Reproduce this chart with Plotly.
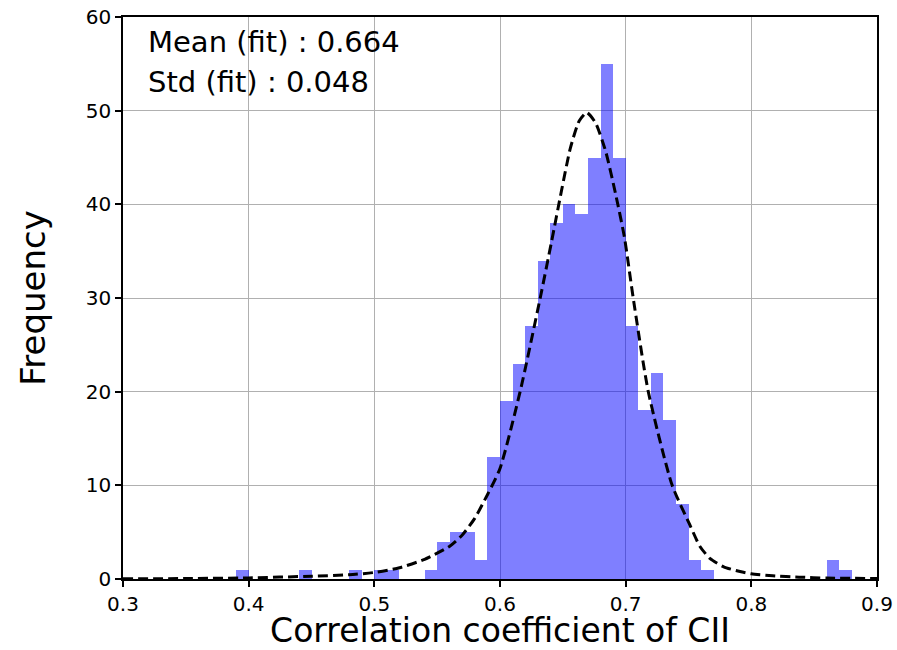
import plotly.graph_objects as go

# --------------------------------------------------------------
# Histogram bins (left edges, width 0.01) and counts
# --------------------------------------------------------------
bin_left = [0.39, 0.44, 0.48, 0.50, 0.51, 0.54, 0.55, 0.56, 0.57, 0.58,
            0.59, 0.60, 0.61, 0.62, 0.63, 0.64, 0.65, 0.66, 0.67, 0.68,
            0.69, 0.70, 0.71, 0.72, 0.73, 0.74, 0.75, 0.76, 0.86, 0.87]
counts = [1, 1, 1, 1, 1, 1, 4, 5, 5, 2,
          13, 19, 23, 27, 34, 38, 40, 39, 45, 55,
          45, 27, 18, 22, 17, 8, 2, 1, 2, 1]
bin_width = 0.01

# --------------------------------------------------------------
# Fitted curve
# --------------------------------------------------------------
fit_x = [0.30, 0.35, 0.40, 0.45, 0.48, 0.50, 0.52, 0.54, 0.56, 0.57,
         0.58, 0.59, 0.60, 0.616, 0.632, 0.641, 0.649, 0.656, 0.663, 0.669,
         0.676, 0.684, 0.692, 0.699, 0.706, 0.718, 0.737, 0.751, 0.759, 0.767,
         0.778, 0.791, 0.80, 0.817, 0.838, 0.86, 0.90]
fit_y = [0.02, 0.05, 0.12, 0.3, 0.45, 0.7, 1.2, 2.1, 3.5, 4.7,
         6.5, 9.0, 11.8, 20, 30, 36, 41.5, 46, 48.9, 49.8,
         48.7, 45.7, 41.1, 36.5, 30, 20, 10, 5.8, 3.5, 2.2,
         1.3, 0.8, 0.55, 0.35, 0.2, 0.1, 0.05]

mean_fit = 0.664
std_fit = 0.048

FONT = "DejaVu Sans"

bin_center = [b + bin_width / 2 for b in bin_left]

fig = go.Figure()

fig.add_trace(go.Bar(
    x=bin_center,
    y=counts,
    width=bin_width,
    marker=dict(color="rgba(0,0,255,0.5)", line=dict(width=0)),
    showlegend=False,
))

fig.add_trace(go.Scatter(
    x=fit_x,
    y=fit_y,
    mode="lines",
    line=dict(color="black", width=3, dash="10px,5px", shape="spline", smoothing=0.6),
    showlegend=False,
))

fig.add_annotation(
    xref="paper", yref="paper", x=0.031, y=0.955,
    xanchor="left", yanchor="middle", showarrow=False,
    text=f"Mean (fit) : {mean_fit:.3f}",
    font=dict(family=FONT, size=29, color="black"),
)
fig.add_annotation(
    xref="paper", yref="paper", x=0.031, y=0.884,
    xanchor="left", yanchor="middle", showarrow=False,
    text=f"Std (fit) : {std_fit:.3f}",
    font=dict(family=FONT, size=29, color="black"),
)

axis_style = dict(
    showline=True, mirror=True, linecolor="black", linewidth=1.5,
    showgrid=True, gridcolor="#b0b0b0", gridwidth=1,
    ticks="outside", ticklen=6, tickwidth=1.5, tickcolor="black",
    tickfont=dict(family=FONT, size=20, color="black"),
    zeroline=False, automargin=False, ticklabeloverflow="allow",
)

fig.update_xaxes(
    range=[0.3, 0.9], dtick=0.1, tick0=0.3, tickformat=".1f",
    title=dict(text="Correlation coefficient of CII",
               font=dict(family=FONT, size=33, color="black"), standoff=8),
    **axis_style,
)
fig.update_yaxes(
    range=[0, 60], dtick=10,
    title=dict(text="Frequency",
               font=dict(family=FONT, size=34, color="black"), standoff=30),
    **axis_style,
)

fig.update_layout(
    width=897, height=650,
    margin=dict(l=123, r=20, t=17, b=71),
    plot_bgcolor="white", paper_bgcolor="white",
    bargap=0,
)

# drop the page's default 8px body margin so the figure fills the window
fig.write_html("out.html", config={"displayModeBar": False},
               post_script="document.body.style.margin='0';")
